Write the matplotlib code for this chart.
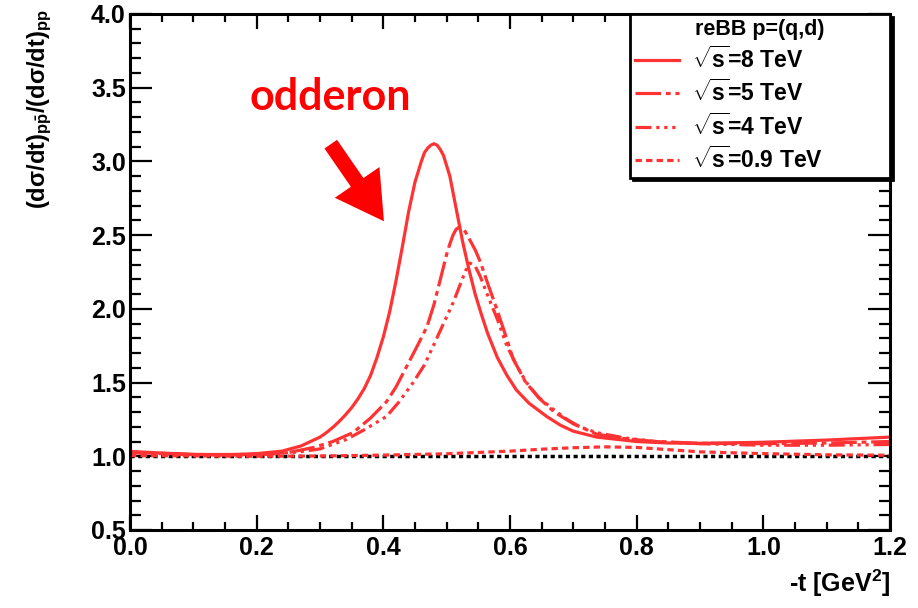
import matplotlib
matplotlib.use('Agg')
import matplotlib.pyplot as plt
from matplotlib.ticker import MultipleLocator

plt.rcParams['font.family'] = ['Liberation Sans', 'DejaVu Sans']
plt.rcParams['font.weight'] = 'bold'
plt.rcParams['mathtext.fontset'] = 'custom'
plt.rcParams['mathtext.rm'] = 'Liberation Sans:bold'
plt.rcParams['mathtext.it'] = 'Liberation Sans:bold'
plt.rcParams['mathtext.bf'] = 'Liberation Sans:bold'

# ratio (dsigma/dt)_ppbar / (dsigma/dt)_pp
t_8 = [0.00, 0.05, 0.10, 0.15, 0.20, 0.24, 0.27, 0.30, 0.31, 0.32, 0.33, 0.34, 0.35,
       0.36, 0.37, 0.38, 0.39, 0.40, 0.41, 0.42, 0.43, 0.44, 0.45, 0.46, 0.465, 0.47,
       0.475, 0.48, 0.485, 0.49, 0.495, 0.505, 0.515, 0.525, 0.535, 0.545, 0.555, 0.565,
       0.58, 0.595, 0.61, 0.63, 0.658, 0.68, 0.70, 0.737, 0.80, 0.85, 0.90, 1.00, 1.10, 1.20]
r_8 = [1.033, 1.022, 1.013, 1.010, 1.018, 1.035, 1.07, 1.13, 1.16, 1.195, 1.235, 1.28, 1.33,
       1.39, 1.46, 1.55, 1.67, 1.81, 1.98, 2.19, 2.42, 2.66, 2.86, 3.00, 3.06, 3.09,
       3.11, 3.12, 3.11, 3.08, 3.04, 2.90, 2.68, 2.46, 2.27, 2.10, 1.96, 1.83,
       1.67, 1.55, 1.45, 1.36, 1.27, 1.21, 1.17, 1.13, 1.10, 1.09, 1.088, 1.095, 1.11, 1.13]

t_5 = [0.00, 0.10, 0.20, 0.25, 0.29, 0.32, 0.352, 0.38, 0.405, 0.42, 0.437, 0.455, 0.469,
       0.48, 0.49, 0.50, 0.505, 0.51, 0.515, 0.52, 0.525, 0.53, 0.535, 0.545, 0.553, 0.565,
       0.579, 0.59, 0.605, 0.625, 0.647, 0.67, 0.70, 0.737, 0.78, 0.83, 0.90, 1.00, 1.10, 1.20]
r_5 = [1.028, 1.012, 1.012, 1.025, 1.06, 1.10, 1.16, 1.26, 1.37, 1.47, 1.61, 1.76, 1.88,
       2.03, 2.20, 2.37, 2.44, 2.50, 2.54, 2.555, 2.55, 2.52, 2.48, 2.40, 2.32, 2.17,
       2.00, 1.86, 1.66, 1.50, 1.39, 1.30, 1.22, 1.15, 1.12, 1.10, 1.088, 1.085, 1.09, 1.10]

t_4 = [0.00, 0.10, 0.20, 0.268, 0.30, 0.342, 0.37, 0.405, 0.425, 0.447, 0.465, 0.479,
       0.495, 0.51, 0.52, 0.53, 0.537, 0.545, 0.553, 0.563, 0.58, 0.595, 0.61, 0.626,
       0.645, 0.668, 0.69, 0.71, 0.737, 0.78, 0.83, 0.90, 1.00, 1.10, 1.20]
r_4 = [1.025, 1.010, 1.008, 1.03, 1.05, 1.115, 1.18, 1.27, 1.37, 1.50, 1.62, 1.75,
       1.90, 2.04, 2.15, 2.26, 2.31, 2.29, 2.22, 2.11, 1.93, 1.75, 1.62, 1.50,
       1.40, 1.32, 1.25, 1.20, 1.16, 1.125, 1.10, 1.085, 1.075, 1.075, 1.08]

t_09 = [0.00, 0.20, 0.30, 0.40, 0.50, 0.60, 0.65, 0.70, 0.75, 0.80, 0.85, 0.90,
        1.00, 1.10, 1.20]
r_09 = [1.005, 1.000, 1.002, 1.008, 1.017, 1.035, 1.048, 1.058, 1.064, 1.060, 1.045, 1.030,
        1.018, 1.010, 1.007]

t_ref = [0.0, 1.2]
r_ref = [1.0, 1.0]

labels = [r'$\sqrt{s}$=8 TeV', r'$\sqrt{s}$=5 TeV', r'$\sqrt{s}$=4 TeV', r'$\sqrt{s}$=0.9 TeV']

RED = '#ff3333'

fig = plt.figure(figsize=(9.18, 6.08), dpi=100)
ax = fig.add_axes([0.1416, 0.1283, 0.8279, 0.8487])

lw = 2.3
ax.plot(t_ref, r_ref, color='black', lw=2.5, linestyle=(0, (1.2, 1.0)))
ax.plot(t_8, r_8, color=RED, lw=lw, linestyle='-', label=labels[0])
ax.plot(t_5, r_5, color=RED, lw=lw, linestyle=(0, (8, 1.5, 1.5, 1.5)), label=labels[1])
ax.plot(t_4, r_4, color=RED, lw=lw, linestyle=(0, (5, 1.5, 1, 1.5, 1, 1.5, 1, 1.5)),
        label=labels[2])
ax.plot(t_09, r_09, color=RED, lw=lw, linestyle=(0, (2, 1.3)), label=labels[3])

ax.set_xlim(0, 1.2)
ax.set_ylim(0.5, 4.0)
ax.xaxis.set_major_locator(MultipleLocator(0.2))
ax.xaxis.set_minor_locator(MultipleLocator(0.05))
ax.yaxis.set_major_locator(MultipleLocator(0.5))
ax.yaxis.set_minor_locator(MultipleLocator(0.1))
ax.xaxis.set_major_formatter(plt.FormatStrFormatter('%.1f'))
ax.yaxis.set_major_formatter(plt.FormatStrFormatter('%.1f'))
ax.tick_params(axis='both', which='both', direction='in', top=True, right=True,
               width=1.6, labelsize=18)
ax.tick_params(axis='x', which='major', length=11, pad=4)
ax.tick_params(axis='x', which='minor', length=5.5)
ax.tick_params(axis='y', which='major', length=16, pad=3)
ax.tick_params(axis='y', which='minor', length=8)
for sp in ax.spines.values():
    sp.set_linewidth(2.2)

fig.text(0.9695, 0.04, r'-t [GeV$^2$]', ha='right', va='center', fontsize=18,
         fontweight='bold')
fig.text(0.043, 0.985, r'(d$\sigma$/dt)$_{\mathrm{p\bar{p}}}$/(d$\sigma$/dt)$_{\mathrm{pp}}$',
         rotation=90, ha='center', va='top', fontsize=17, fontweight='bold')

leg = ax.legend(loc='upper right', bbox_to_anchor=(0.658, 0.0, 0.342, 1.0), mode='expand',
                borderaxespad=0, title='reBB p=(q,d)', fontsize=16.5,
                title_fontproperties={'size': 15.5, 'weight': 'bold'},
                fancybox=False, framealpha=1, edgecolor='black', handlelength=1.95,
                handletextpad=0.55, labelspacing=0.3, borderpad=0.2,
                shadow={'color': 'black', 'alpha': 1, 'ox': 2, 'oy': -2})
leg.get_frame().set_linewidth(2.0)

ax.text(0.3158, 3.435, 'odderon', color='#ff0000', fontsize=31, fontweight='bold',
        family=['Lato', 'DejaVu Sans'], ha='center', va='center')
ax.annotate('', xy=(0.401, 2.594), xytext=(0.317, 3.117),
            arrowprops=dict(arrowstyle='simple,head_length=3.4,head_width=3.9,tail_width=1.1',
                            mutation_scale=10, color='#ff0000', shrinkA=0, shrinkB=0, lw=0))

fig.savefig('out.png', dpi=100)
